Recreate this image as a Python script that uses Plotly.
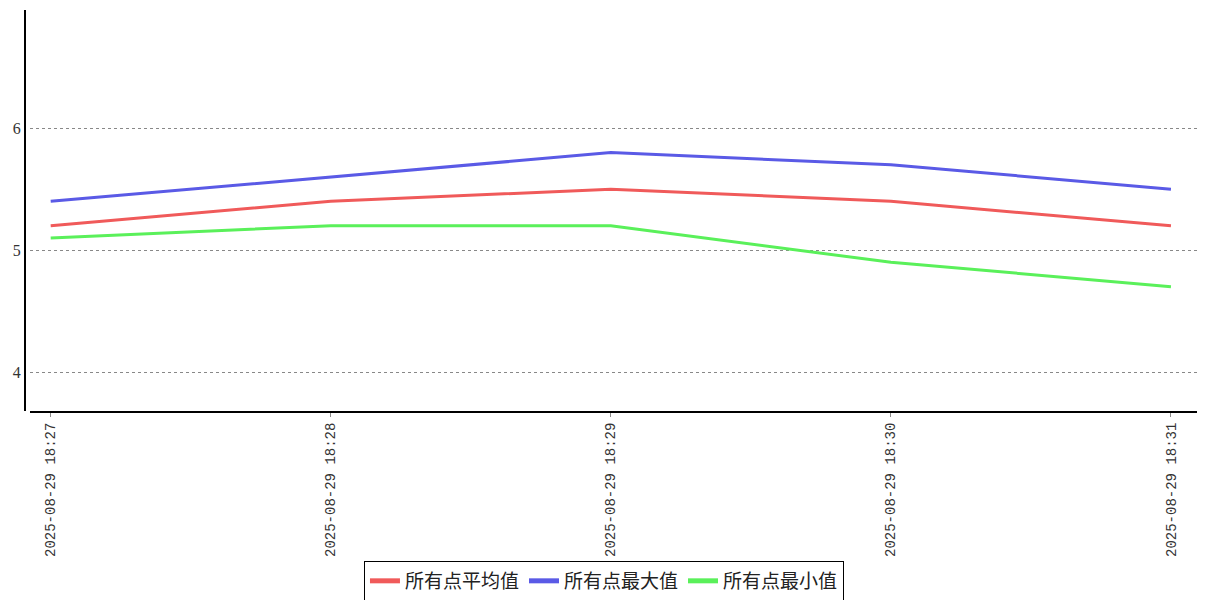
import plotly.graph_objects as go

categories = ["2025-08-29 18:27", "2025-08-29 18:28", "2025-08-29 18:29",
              "2025-08-29 18:30", "2025-08-29 18:31"]
avg_vals = [5.2, 5.4, 5.5, 5.4, 5.2]
max_vals = [5.4, 5.6, 5.8, 5.7, 5.5]
min_vals = [5.1, 5.2, 5.2, 4.9, 4.7]
series_names = ["所有点平均值", "所有点最大值", "所有点最小值"]
series_colors = ["#F05A5A", "#5A5AE6", "#5AF05A"]

fig = go.Figure()
for name, vals, col in zip(series_names, [avg_vals, max_vals, min_vals], series_colors):
    fig.add_trace(go.Scatter(x=categories, y=vals, mode="lines", name=name,
                             line=dict(color=col, width=3)))

# page body has an 8px default margin, so the figure is sized 1199x592
fig.update_layout(
    width=1199, height=592,
    margin=dict(l=17, r=10, t=2, b=189, autoexpand=False),
    paper_bgcolor="white", plot_bgcolor="white",
    showlegend=True,
    legend=dict(orientation="h", x=0.494, xanchor="center", y=-0.374, yanchor="top",
                bordercolor="black", borderwidth=1, bgcolor="white",
                font=dict(family="Noto Sans CJK SC", size=19, color="#222"),
                itemwidth=30, tracegroupgap=0, itemsizing="constant"),
    xaxis=dict(type="category", domain=[0.004, 1], range=[-0.075, 4.093],
               automargin=False,
               showline=True, linecolor="black", linewidth=2,
               ticks="outside", ticklen=4, tickcolor="#888", tickwidth=1,
               tickangle=-90, showgrid=False, zeroline=False,
               tickfont=dict(family="Liberation Mono", size=14, color="#333")),
    yaxis=dict(range=[3.68, 6.97], anchor="free", position=0, automargin=False,
               showline=True, linecolor="black", linewidth=2,
               tickvals=[4, 5, 6], ticks="", showgrid=True,
               gridcolor="#888", griddash="dot", gridwidth=1, zeroline=False,
               tickfont=dict(family="Liberation Serif", size=16, color="#333")),
)

fig.write_html("out.html")
